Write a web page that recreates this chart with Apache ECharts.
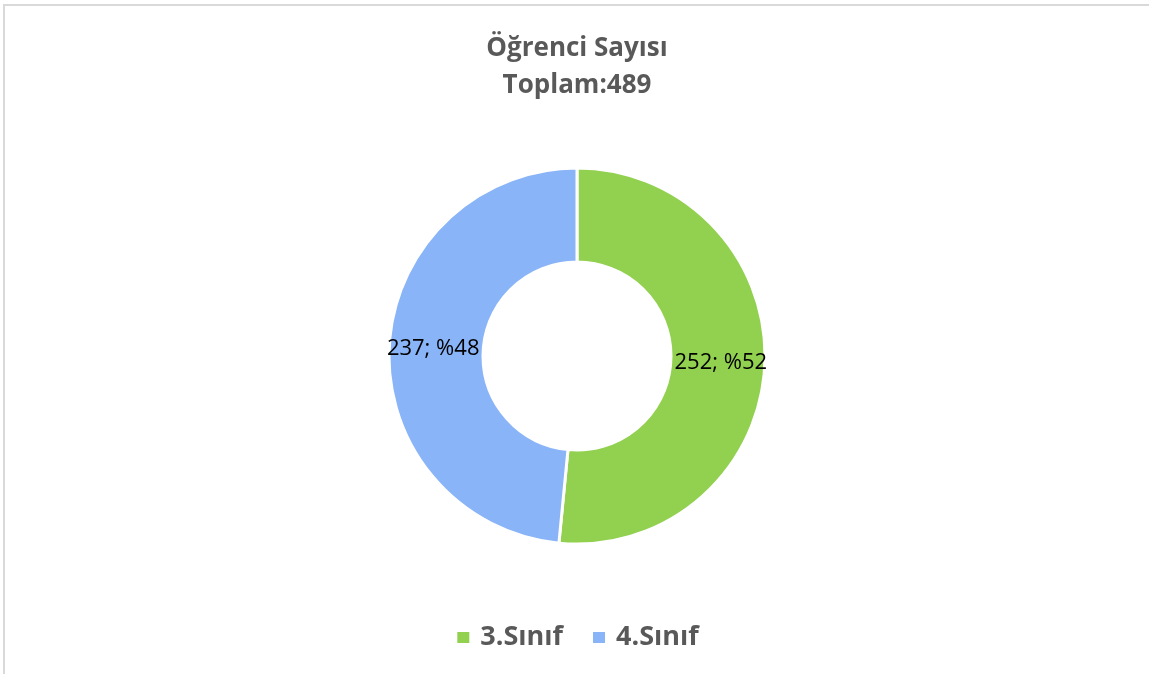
<!DOCTYPE html>
<html>
<head>
<meta charset="utf-8">
<script src="https://cdn.jsdelivr.net/npm/echarts@6/dist/echarts.min.js"></script>
<style>
  html, body { margin: 0; padding: 0; background: #fff; }
  #chart { position: absolute; left: 3px; top: 4px; width: 1146px; height: 670px;
           border-left: 2px solid #d9d9d9; border-top: 2px solid #d9d9d9; box-sizing: border-box; }
</style>
</head>
<body>
<div id="chart"></div>
<script>
// veriler
var siniflar = ['3.Sınıf', '4.Sınıf'];
var ogrenciSayilari = [252, 237];
var renkler = ['#92d050', '#89b4f7'];
var baslik = 'Öğrenci Sayısı';

var toplam = ogrenciSayilari.reduce(function (a, b) { return a + b; }, 0);
var chart = echarts.init(document.getElementById('chart'));

var veri = siniflar.map(function (ad, i) {
    return { name: ad, value: ogrenciSayilari[i], itemStyle: { color: renkler[i] } };
});

var option = {
    title: {
        text: baslik + '\nToplam:' + toplam,
        left: 'center',
        top: 19,
        textStyle: {
            fontFamily: 'Open Sans',
            fontWeight: 'bold',
            fontSize: 26,
            color: '#595959',
            lineHeight: 37
        }
    },
    legend: {
        bottom: 18,
        left: 'center',
        icon: 'rect',
        itemWidth: 14,
        itemHeight: 13,
        itemGap: 28,
        selectedMode: false,
        textStyle: {
            fontFamily: 'Open Sans',
            fontWeight: 'bold',
            fontSize: 27,
            color: '#595959',
            padding: [0, 0, 0, 5]
        },
        data: siniflar
    },
    series: [{
        type: 'pie',
        radius: [94, 188],
        center: [572, 350],
        startAngle: 90,
        clockwise: true,
        silent: true,
        avoidLabelOverlap: false,
        itemStyle: { borderColor: '#fff', borderWidth: 3 },
        label: {
            show: true,
            position: 'inside',
            fontFamily: 'Open Sans',
            fontSize: 22,
            color: '#000',
            formatter: function (p) { return p.value + '; %' + Math.round(p.percent); }
        },
        labelLine: { show: false },
        data: veri
    }]
};

chart.setOption(option);
</script>
</body>
</html>
